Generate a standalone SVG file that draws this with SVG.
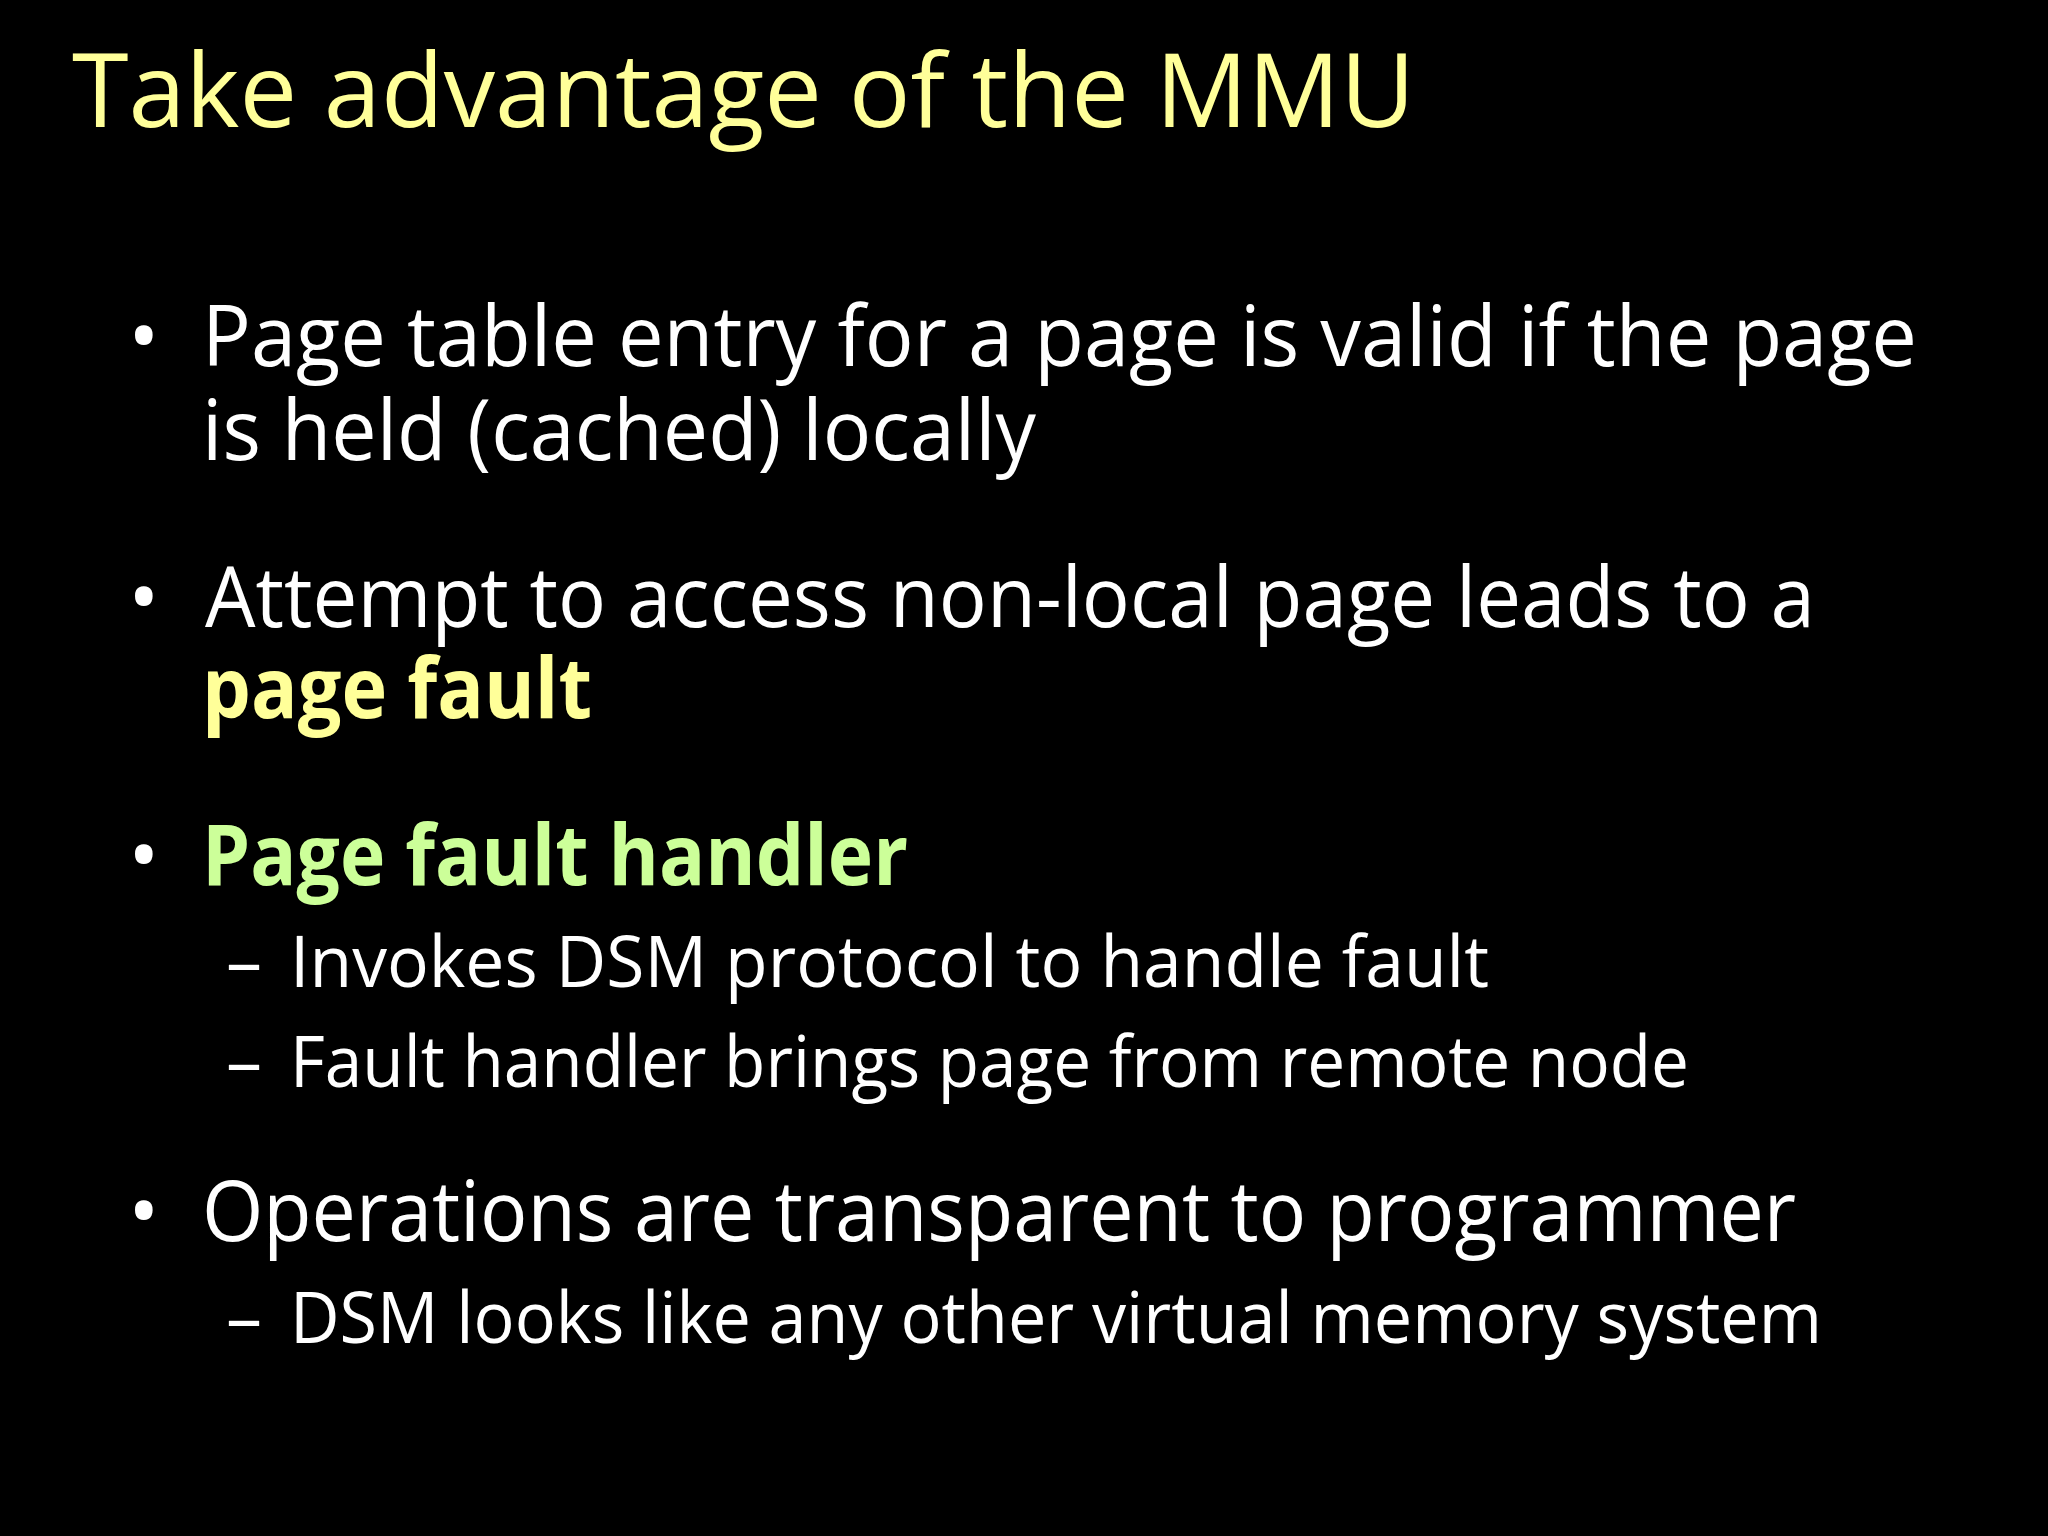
<svg xmlns="http://www.w3.org/2000/svg" width="2048" height="1536" viewBox="0 0 2048 1536">
<style>
text{font-family:"Open Sans","DejaVu Sans",sans-serif;fill:#fff}
.t{fill:#ffff99;font-size:102px}
.b{font-size:84px}
.s{font-size:72px}
.y{fill:#ffff99;font-weight:bold}
.g{fill:#ccff99;font-weight:bold}
</style>
<rect width="2048" height="1536" fill="#000"/>
<text class="t" x="72" y="127" textLength="1343" lengthAdjust="spacingAndGlyphs">Take advantage of the MMU</text>
<g class="b">
<text x="128" y="366">•</text>
<text x="202" y="366" textLength="1715" lengthAdjust="spacingAndGlyphs">Page table entry for a page is valid if the page</text>
<text x="202" y="460" textLength="834" lengthAdjust="spacingAndGlyphs">is held (cached) locally</text>
<text x="128" y="627">•</text>
<text x="205" y="627" textLength="1610" lengthAdjust="spacingAndGlyphs">Attempt to access non-local page leads to a</text>
<text class="y" x="202" y="718" textLength="390" lengthAdjust="spacingAndGlyphs">page fault</text>
<text x="128" y="885">•</text>
<text class="g" x="202" y="885" textLength="706" lengthAdjust="spacingAndGlyphs">Page fault handler</text>
<text x="128" y="1241">•</text>
<text x="202" y="1241" textLength="1594" lengthAdjust="spacingAndGlyphs">Operations are transparent to programmer</text>
</g>
<g class="s">
<text x="226" y="987">–</text>
<text x="290" y="987" textLength="1199" lengthAdjust="spacingAndGlyphs">Invokes DSM protocol to handle fault</text>
<text x="226" y="1087">–</text>
<text x="290" y="1087" textLength="1399" lengthAdjust="spacingAndGlyphs">Fault handler brings page from remote node</text>
<text x="226" y="1343">–</text>
<text x="290" y="1343" textLength="1532" lengthAdjust="spacingAndGlyphs">DSM looks like any other virtual memory system</text>
</g>
</svg>
